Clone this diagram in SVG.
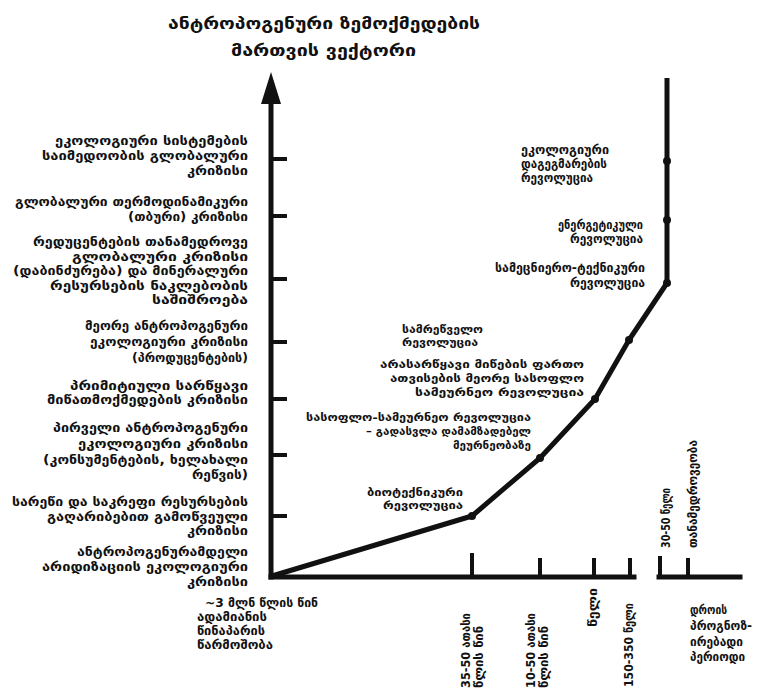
<svg xmlns="http://www.w3.org/2000/svg" width="766" height="691" viewBox="0 0 766 691">
<style>
text{font-family:"DejaVu Sans","Liberation Sans",sans-serif;font-weight:bold;font-size:12px;fill:#111}
.e{text-anchor:end}
.ttl{font-size:16px}
.s{font-size:10.5px}
.ax{stroke:#111;stroke-width:5;fill:none;stroke-linecap:square}
.tk{stroke:#111;stroke-width:4;fill:none}
.cv{stroke:#111;stroke-width:5;fill:none;stroke-linejoin:round}
.dot{fill:#111}
</style>
<rect width="766" height="691" fill="#fff"/>
<g id="connectors">
<line class="ax" x1="271" y1="577" x2="271" y2="100"/>
<polygon points="271,72 261,104 281,104" fill="#111"/>
<line class="ax" x1="271" y1="577" x2="634" y2="577"/>
<line class="ax" x1="659" y1="577" x2="740" y2="577"/>
<g class="tk">
<line x1="271" y1="159" x2="287" y2="159"/>
<line x1="271" y1="216" x2="287" y2="216"/>
<line x1="271" y1="279" x2="287" y2="279"/>
<line x1="271" y1="342" x2="287" y2="342"/>
<line x1="271" y1="399" x2="287" y2="399"/>
<line x1="271" y1="455" x2="287" y2="455"/>
<line x1="271" y1="516" x2="287" y2="516"/>
<line x1="472" y1="577" x2="472" y2="553"/>
<line x1="540" y1="577" x2="540" y2="558"/>
<line x1="594" y1="577" x2="594" y2="558"/>
<line x1="630" y1="577" x2="630" y2="558"/>
<line x1="660" y1="577" x2="660" y2="556"/>
<line x1="688" y1="577" x2="688" y2="558"/>
</g>
<polyline class="cv" points="272,576 472,516 540,458 595,399 629,340 667,283 667,78"/>
<circle class="dot" cx="472" cy="516" r="4"/>
<circle class="dot" cx="540" cy="458" r="4"/>
<circle class="dot" cx="595" cy="399" r="4"/>
<circle class="dot" cx="629" cy="340" r="4"/>
<circle class="dot" cx="667" cy="283" r="4"/>
<circle class="dot" cx="667" cy="220" r="4"/>
<circle class="dot" cx="667" cy="161" r="4"/>
</g>
<g id="title">
<text class="ttl" x="168" y="29" textLength="312" lengthAdjust="spacingAndGlyphs">ანტროპოგენური ზემოქმედების</text>
<text class="ttl" x="231" y="56" textLength="185" lengthAdjust="spacingAndGlyphs">მართვის ვექტორი</text>
</g>
<g id="crisis1">
<text class="e" x="248" y="145" textLength="193" lengthAdjust="spacingAndGlyphs">ეკოლოგიური სისტემების</text>
<text class="e" x="248" y="160" textLength="206" lengthAdjust="spacingAndGlyphs">საიმედოობის გლობალური</text>
<text class="e" x="248" y="175" textLength="61" lengthAdjust="spacingAndGlyphs">კრიზისი</text>
</g>
<g id="crisis2">
<text class="e" x="248" y="206" textLength="233" lengthAdjust="spacingAndGlyphs">გლობალური თერმოდინამიკური</text>
<text class="e" x="248" y="221" textLength="120" lengthAdjust="spacingAndGlyphs">(თბური) კრიზისი</text>
</g>
<g id="crisis3">
<text class="e" x="248" y="246" textLength="215" lengthAdjust="spacingAndGlyphs">რედუცენტების თანამედროვე</text>
<text class="e" x="248" y="261" textLength="176" lengthAdjust="spacingAndGlyphs">გლობალური კრიზისი</text>
<text class="e" x="248" y="275" textLength="235" lengthAdjust="spacingAndGlyphs">(დაბინძურება) და მინერალური</text>
<text class="e" x="248" y="290" textLength="198" lengthAdjust="spacingAndGlyphs">რესურსების ნაკლებობის</text>
<text class="e" x="248" y="304" textLength="96" lengthAdjust="spacingAndGlyphs">საშიშროება</text>
</g>
<g id="crisis4">
<text class="e" x="248" y="330" textLength="163" lengthAdjust="spacingAndGlyphs">მეორე ანტროპოგენური</text>
<text class="e" x="248" y="346" textLength="158" lengthAdjust="spacingAndGlyphs">ეკოლოგიური კრიზისი</text>
<text class="e" x="248" y="362" textLength="116" lengthAdjust="spacingAndGlyphs">(პროდუცენტების)</text>
</g>
<g id="crisis5">
<text class="e" x="248" y="390" textLength="178" lengthAdjust="spacingAndGlyphs">პრიმიტიული სარწყავი</text>
<text class="e" x="248" y="404" textLength="201" lengthAdjust="spacingAndGlyphs">მიწათმოქმედების კრიზისი</text>
</g>
<g id="crisis6">
<text class="e" x="248" y="432" textLength="195" lengthAdjust="spacingAndGlyphs">პირველი ანტროპოგენური</text>
<text class="e" x="248" y="448" textLength="170" lengthAdjust="spacingAndGlyphs">ეკოლოგიური კრიზისი</text>
<text class="e" x="248" y="464" textLength="205" lengthAdjust="spacingAndGlyphs">(კონსუმენტების, ხელახალი</text>
<text class="e" x="248" y="479" textLength="56" lengthAdjust="spacingAndGlyphs">რეწვის)</text>
</g>
<g id="crisis7">
<text class="e" x="248" y="506" textLength="236" lengthAdjust="spacingAndGlyphs">სარეწი და საკრეფი რესურსების</text>
<text class="e" x="248" y="521" textLength="201" lengthAdjust="spacingAndGlyphs">გაღარიბებით გამოწვეული</text>
<text class="e" x="248" y="535" textLength="61" lengthAdjust="spacingAndGlyphs">კრიზისი</text>
</g>
<g id="crisis8">
<text class="e" x="248" y="556" textLength="171" lengthAdjust="spacingAndGlyphs">ანტროპოგენურამდელი</text>
<text class="e" x="248" y="571" textLength="206" lengthAdjust="spacingAndGlyphs">არიდიზაციის ეკოლოგიური</text>
<text class="e" x="248" y="586" textLength="61" lengthAdjust="spacingAndGlyphs">კრიზისი</text>
</g>
<g id="origin">
<text x="205" y="607" textLength="113" lengthAdjust="spacingAndGlyphs">~3 მლნ წლის წინ</text>
<text x="197" y="621" textLength="70" lengthAdjust="spacingAndGlyphs">ადამიანის</text>
<text x="197" y="635" textLength="68" lengthAdjust="spacingAndGlyphs">წინაპარის</text>
<text x="197" y="649" textLength="76" lengthAdjust="spacingAndGlyphs">წარმოშობა</text>
</g>
<g id="rev-bio">
<text class="e s" x="463" y="496" textLength="96" lengthAdjust="spacingAndGlyphs">ბიოტექნიკური</text>
<text class="e s" x="463" y="509" textLength="80" lengthAdjust="spacingAndGlyphs">რევოლუცია</text>
</g>
<g id="rev-agri1">
<text class="e s" x="531" y="421" textLength="225" lengthAdjust="spacingAndGlyphs">სასოფლო-სამეურნეო რევოლუცია</text>
<text class="e s" x="531" y="435" textLength="165" lengthAdjust="spacingAndGlyphs">– გადასვლა დამამზადებელ</text>
<text class="e s" x="531" y="449" textLength="78" lengthAdjust="spacingAndGlyphs">მეურნეობაზე</text>
</g>
<g id="rev-agri2">
<text class="e s" x="584" y="368" textLength="204" lengthAdjust="spacingAndGlyphs">არასარწყავი მიწების ფართო</text>
<text class="e s" x="584" y="382" textLength="194" lengthAdjust="spacingAndGlyphs">ათვისების მეორე სასოფლო</text>
<text class="e s" x="584" y="396" textLength="169" lengthAdjust="spacingAndGlyphs">სამეურნეო რევოლუცია</text>
</g>
<g id="rev-industrial">
<text class="s" x="402" y="333" textLength="81" lengthAdjust="spacingAndGlyphs">სამრეწველო</text>
<text class="s" x="402" y="346" textLength="76" lengthAdjust="spacingAndGlyphs">რევოლუცია</text>
</g>
<g id="rev-scitech">
<text class="e" x="645" y="272" textLength="150" lengthAdjust="spacingAndGlyphs">სამეცნიერო-ტექნიკური</text>
<text class="e" x="645" y="287" textLength="75" lengthAdjust="spacingAndGlyphs">რევოლუცია</text>
</g>
<g id="rev-energy">
<text class="e" x="643" y="229" textLength="85" lengthAdjust="spacingAndGlyphs">ენერგეტიკული</text>
<text class="e" x="643" y="243" textLength="73" lengthAdjust="spacingAndGlyphs">რევოლუცია</text>
</g>
<g id="rev-eco">
<text x="521" y="154" textLength="88" lengthAdjust="spacingAndGlyphs">ეკოლოგიური</text>
<text x="521" y="168" textLength="86" lengthAdjust="spacingAndGlyphs">დაგეგმარების</text>
<text x="521" y="182" textLength="72" lengthAdjust="spacingAndGlyphs">რევოლუცია</text>
</g>
<g id="time-labels">
<text transform="translate(470,688) rotate(-90)" textLength="75" lengthAdjust="spacingAndGlyphs">35-50 ათასი</text>
<text transform="translate(483,688) rotate(-90)" textLength="62" lengthAdjust="spacingAndGlyphs">წლის წინ</text>
<text transform="translate(535,688) rotate(-90)" textLength="75" lengthAdjust="spacingAndGlyphs">10-50 ათასი</text>
<text transform="translate(548,688) rotate(-90)" textLength="62" lengthAdjust="spacingAndGlyphs">წლის წინ</text>
<text transform="translate(597,627) rotate(-90)" textLength="39" lengthAdjust="spacingAndGlyphs">წელი</text>
<text transform="translate(633,687) rotate(-90)" textLength="84" lengthAdjust="spacingAndGlyphs">150-350 წელი</text>
<text transform="translate(670,548) rotate(-90)" textLength="60" lengthAdjust="spacingAndGlyphs">30-50 წელი</text>
<text transform="translate(697,548) rotate(-90)" textLength="108" lengthAdjust="spacingAndGlyphs">თანამედროვეობა</text>
</g>
<g id="forecast">
<text x="690" y="614" textLength="37" lengthAdjust="spacingAndGlyphs">დროის</text>
<text x="690" y="630" textLength="62" lengthAdjust="spacingAndGlyphs">პროგნოზ-</text>
<text x="690" y="646" textLength="53" lengthAdjust="spacingAndGlyphs">ირებადი</text>
<text x="690" y="661" textLength="55" lengthAdjust="spacingAndGlyphs">პერიოდი</text>
</g>
</svg>
